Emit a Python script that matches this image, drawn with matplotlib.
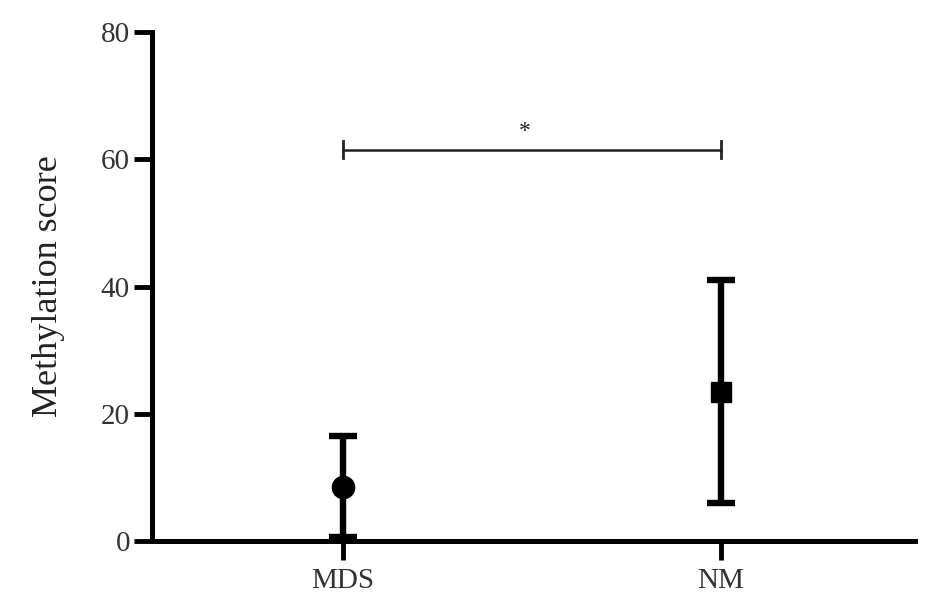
import numpy as np
import matplotlib.pyplot as plt

# Gruppen und Werte (Mittelwert mit Fehlerbalken)
groups = ['MDS', 'NM']
means = [8.6, 23.4]
upper = [16.5, 41.0]
lower = [0.6, 6.0]
markers = ['o', 's']
msizes = [16, 15]

plt.rcParams['font.family'] = ['Liberation Serif', 'DejaVu Serif']

fig = plt.figure(figsize=(9.45, 6.13), dpi=100)
ax = fig.add_axes([0.161, 0.117, 0.807, 0.831])

x = np.arange(len(groups))
for i in range(len(groups)):
    err = [[means[i] - lower[i]], [upper[i] - means[i]]]
    ax.errorbar(x[i], means[i], yerr=err, fmt=markers[i], color='black',
                markersize=msizes[i], elinewidth=4.6, capsize=10, capthick=4.6, zorder=3)

# Signifikanz-Klammer
y_br = 61.5
ax.plot([x[0], x[1]], [y_br, y_br], color='#222222', lw=1.8)
ax.plot([x[0], x[0]], [y_br - 1.3, y_br + 1.3], color='#222222', lw=2)
ax.plot([x[1], x[1]], [y_br - 1.3, y_br + 1.3], color='#222222', lw=2)
ax.text((x[0] + x[1]) / 2 - 0.02, y_br + 1.2, '*', ha='center', va='bottom', fontsize=17,
        color='#222222')

ax.set_xlim(-0.505, 1.513)
ax.set_ylim(0, 80)
ax.set_xticks(x)
ax.set_xticklabels(groups, fontsize=21, color='#333333')
ax.set_yticks([0, 20, 40, 60, 80])
ax.set_yticklabels(['0', '20', '40', '60', '80'], fontsize=21, color='#333333')
ax.tick_params(axis='y', width=3.5, length=13, direction='out', pad=3)
ax.tick_params(axis='x', width=3.5, length=14, direction='out', pad=5)
ax.set_ylabel('Methylation score', fontsize=26, labelpad=26, color='#222222')

for s in ['top', 'right']:
    ax.spines[s].set_visible(False)
for s in ['left', 'bottom']:
    ax.spines[s].set_linewidth(3.6)

fig.savefig('out.png', dpi=100)
